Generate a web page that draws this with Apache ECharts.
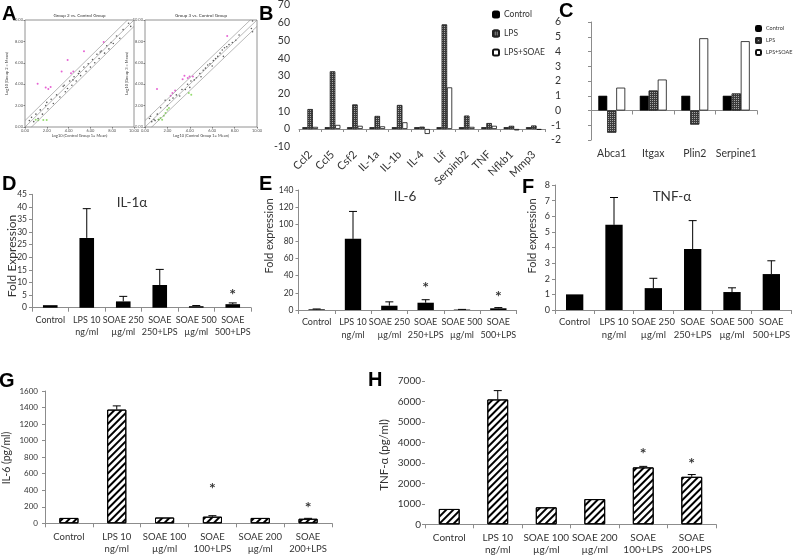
<!DOCTYPE html>
<html><head><meta charset="utf-8">
<script src="https://cdn.jsdelivr.net/npm/echarts@6/dist/echarts.min.js"></script>
<style>html,body{margin:0;padding:0;background:#fff}#c{width:796px;height:559px}</style>
</head><body><div id="c"></div>
<script>
// ---------- Panel A (scatter, log-scale values) ----------
const aDiagonal = [0, 10];
const aFoldOffset = 0.6;
const aLeftBlack = [[0.4,0.6],[0.6,0.9],[0.8,0.5],[1.0,1.2],[1.2,0.8],[1.4,1.6],[1.6,1.2],[1.9,2.0],[2.1,1.7],[2.4,2.6],[2.6,2.2],[2.9,3.0],[3.2,2.8],[3.5,3.8],[3.7,3.3],[3.9,3.6],[4.1,4.3],[4.3,3.9],[4.5,4.7],[4.7,4.3],[4.9,5.0],[5.1,4.8],[5.4,5.6],[5.6,5.2],[5.8,5.9],[6.0,5.6],[6.2,6.3],[6.4,6.0],[6.6,6.8],[6.8,6.4],[7.0,7.1],[7.3,6.9],[7.5,7.6],[7.7,7.3],[7.9,7.9],[8.1,7.8],[8.4,8.5],[8.7,8.3],[9.0,9.1],[9.5,9.7],[9.7,9.4],[3.6,3.9],[5.0,5.2],[4.4,4.4],[6.9,7.0],[2.0,2.3]];
const aLeftPink = [[1.16,4.04],[1.90,3.70],[2.14,3.54],[2.35,3.73],[3.36,5.19],[3.91,6.27],[4.22,5.03],[4.43,5.19],[5.41,7.08],[7.22,7.95]];
const aLeftGreen = [[0.98,0.68],[1.22,0.62],[1.68,0.65],[1.99,0.65]];
const aRightBlack = [[0.4,0.8],[0.5,1.0],[0.6,0.5],[0.8,0.7],[0.9,0.6],[1.1,1.2],[1.2,0.7],[1.4,1.8],[1.8,2.5],[2.0,2.0],[2.2,2.5],[2.5,2.7],[2.8,3.0],[3.1,2.9],[3.3,3.5],[3.6,3.5],[3.8,4.0],[4.0,3.7],[4.1,4.3],[4.4,4.4],[4.6,4.6],[4.9,5.0],[5.0,4.7],[5.2,5.3],[5.4,5.5],[5.6,5.8],[5.8,5.9],[6.0,5.7],[6.1,6.2],[6.3,6.4],[6.5,6.6],[6.7,6.9],[6.9,7.2],[7.0,6.6],[7.1,7.4],[7.3,7.5],[7.5,7.7],[7.8,7.9],[8.1,8.1],[8.4,8.6],[9.5,9.2],[9.6,9.9],[9.6,8.9]];
const aRightPink = [[1.07,3.54],[2.29,2.92],[2.45,3.17],[2.69,3.42],[3.36,4.47],[3.52,4.78],[3.82,4.57],[3.98,4.72],[4.28,4.72],[7.34,8.51]];
const aRightGreen = [[3.91,3.17],[4.13,3.01],[1.38,0.84],[1.68,1.06],[1.83,1.30],[1.99,1.61],[2.14,1.77],[1.53,0.68],[1.22,0.68]];

// ---------- Panel B ----------
const bCategories = ['Ccl2','Ccl5','Csf2','IL-1a','IL-1b','IL-4','Lif','Serpinb2','TNF','Nfkb1','Mmp3'];
const bControl  = [1,1,1,1,1,1,1,1,1,1,1];
const bLPS      = [11.2,32.5,13.8,7.3,13.5,1.2,59,7.5,3.3,1.7,1.9];
const bLPSSOAE  = [1.2,2.3,1.8,1.5,3.8,-2.8,23.5,1.2,1.8,-0.8,-0.5];

// ---------- Panel C ----------
const cCategories = ['Abca1','Itgax','Plin2','Serpine1'];
const cControl  = [1,1,1,1];
const cLPS      = [-1.5,1.35,-0.95,1.15];
const cLPSSOAE  = [1.55,2.1,4.9,4.7];

// ---------- Panels D-F (qPCR) ----------
const defCategories = ['Control','LPS 10\nng/ml','SOAE 250\nµg/ml','SOAE\n250+LPS','SOAE 500\nµg/ml','SOAE\n500+LPS'];
const dValues = [1,27.7,2.5,9,0.6,1.4];
const dErrTop = [null,39.3,4.5,15.2,0.85,1.9];
const dStars  = [null,null,null,null,null,5.2];
const eValues = [0.8,83,5,8.5,0.5,2];
const eErrTop = [1.2,115,9.5,12,0.7,2.8];
const eStars  = [null,null,null,26,null,15];
const fValues = [1.0,5.45,1.4,3.9,1.15,2.3];
const fErrTop = [null,7.2,2.03,5.72,1.42,3.15];

// ---------- Panels G-H (ELISA) ----------
const gCategories = ['Control','LPS 10\nng/ml','SOAE 100\nµg/ml','SOAE\n100+LPS','SOAE 200\nµg/ml','SOAE\n200+LPS'];
const gValues = [65,1375,70,80,65,55];
const gErrTop = [null,1420,null,92,null,60];
const gStars  = [null,null,null,420,null,190];
const hCategories = ['Control','LPS 10\nng/ml','SOAE 100\nµg/ml','SOAE 200\nµg/ml','SOAE\n100+LPS','SOAE\n200+LPS'];
const hValues = [750,6100,830,1230,2780,2320];
const hErrTop = [null,6530,null,null,2830,2430];
const hStars  = [null,null,null,null,3450,2960];

// ---------- build ----------
const FONT = 'Lato, "Open Sans", sans-serif';
const TXT = '#333';
const AX = '#8c8c8c';
const chart = echarts.init(document.getElementById('c'), null, {renderer:'canvas'});

const grids = [
  {left:25, top:20, width:109, height:107, show:true, borderColor:'#777', borderWidth:0.8}, //A1
  {left:145, top:20, width:112, height:107, show:true, borderColor:'#777', borderWidth:0.8}, //A2
  {left:299, top:5, width:246, height:141.7},   //B
  {left:591, top:22, width:166, height:118},    //C
  {left:32, top:194.3, width:219, height:113.4},//D
  {left:298.5, top:190, width:218, height:120}, //E
  {left:555, top:185, width:236, height:125},   //F
  {left:45, top:391, width:287, height:132.3},  //G
  {left:425, top:381, width:291, height:143.3}  //H
].map(g => Object.assign({containLabel:false, outerBoundsMode:'none'}, g));

const xAxes = [], yAxes = [], series = [];

function scatterAxes(gi, xname, yname){
  xAxes.push({gridIndex:gi, type:'value', min:aDiagonal[0], max:aDiagonal[1], interval:2,
    axisLine:{show:false}, axisTick:{show:true, length:1.5, lineStyle:{color:'#777'}}, splitLine:{show:false},
    axisLabel:{fontSize:4, color:'#555', margin:2, formatter:v=>v.toFixed(2)},
    name:xname, nameLocation:'middle', nameGap:7, nameTextStyle:{fontSize:4, color:'#444'}});
  yAxes.push({gridIndex:gi, type:'value', min:aDiagonal[0], max:aDiagonal[1], interval:2,
    axisLine:{show:false}, axisTick:{show:true, length:1.5, lineStyle:{color:'#777'}}, splitLine:{show:false},
    axisLabel:{fontSize:4, color:'#555', margin:2, formatter:v=>v.toFixed(2)},
    name:yname, nameLocation:'middle', nameGap:13, nameTextStyle:{fontSize:4, color:'#444'}});
}
function scatterSeries(ai, black, pink, green){
  const d0 = aDiagonal[0], d1 = aDiagonal[1], o = aFoldOffset;
  const lines = [[[d0,d0],[d1,d1]], [[d0,d0+o],[d1,d1+o]], [[d0,d0-o],[d1,d1-o]]];
  lines.forEach(l => series.push({type:'line', xAxisIndex:ai, yAxisIndex:ai, data:l, symbol:'none', silent:true,
    lineStyle:{color:'#888', width:0.6}}));
  [[black,'#333',1.6],[pink,'#e03cc8',2],[green,'#79d34a',2]].forEach(([d,c,s]) => series.push({type:'scatter',
    xAxisIndex:ai, yAxisIndex:ai, data:d, symbol:'circle', symbolSize:s, silent:true,
    itemStyle:{color:c, borderWidth:0}}));
}
scatterAxes(0, 'Log10 (Control Group 1= Mean)', 'Log10 (Group 2 = Mean)');
scatterAxes(1, 'Log10 (Control Group 1= Mean)', 'Log10 (Group 3 = Mean)');
scatterSeries(0, aLeftBlack, aLeftPink, aLeftGreen);
scatterSeries(1, aRightBlack, aRightPink, aRightGreen);

// B
xAxes.push({gridIndex:2, type:'category', data:bCategories,
  axisLine:{onZero:true, lineStyle:{color:AX}}, axisTick:{show:true, length:3, lineStyle:{color:AX}},
  axisLabel:{interval:0, rotate:45, fontSize:11, color:TXT, margin:6, fontFamily:FONT}});
yAxes.push({gridIndex:2, type:'value', min:-10, max:70, interval:10,
  axisLine:{show:false}, axisTick:{show:false}, splitLine:{show:false},
  axisLabel:{fontSize:10.5, color:TXT, margin:9, fontFamily:FONT}});
// C
xAxes.push({gridIndex:3, type:'category', data:cCategories,
  axisLine:{onZero:true, lineStyle:{color:AX}}, axisTick:{show:true, length:4, lineStyle:{color:AX}},
  axisLabel:{interval:0, fontSize:10.5, color:TXT, margin:8, fontFamily:FONT}});
yAxes.push({gridIndex:3, type:'value', min:-2, max:6, interval:1,
  axisLine:{show:true, lineStyle:{color:AX}}, axisTick:{show:true, length:3, lineStyle:{color:AX}}, splitLine:{show:false},
  axisLabel:{fontSize:10.5, color:TXT, margin:30, fontFamily:FONT}});

const checker = {symbol:'rect', symbolSize:1, dashArrayX:[1,1], dashArrayY:[1,1], color:'rgba(255,255,255,0.55)'};
function groupBars(ai, ctl, lps, soae, gapCat){
  series.push({name:'Control', type:'bar', xAxisIndex:ai, yAxisIndex:ai, data:ctl, barGap:'0%', barCategoryGap:gapCat,
    itemStyle:{color:'#000', borderColor:'#000', borderWidth:0.6}});
  series.push({name:'LPS', type:'bar', xAxisIndex:ai, yAxisIndex:ai, data:lps, barGap:'0%', barCategoryGap:gapCat,
    itemStyle:{color:'#3c3c3c', borderColor:'#222', borderWidth:0.6, decal:checker}});
  series.push({name:'LPS+SOAE', type:'bar', xAxisIndex:ai, yAxisIndex:ai, data:soae, barGap:'0%', barCategoryGap:gapCat,
    itemStyle:{color:'#fff', borderColor:'#111', borderWidth:0.8}});
}
groupBars(2, bControl, bLPS, bLPSSOAE, '30%');
groupBars(3, cControl, cLPS, cLPSSOAE, '35%');

// D-H helpers
function catAxes(gi, cats, max, interval, o){
  xAxes.push({gridIndex:gi, type:'category', data:cats,
    axisLine:{show:true, lineStyle:{color:AX}}, axisTick:{show:true, length:4, lineStyle:{color:AX}},
    axisLabel:{interval:0, fontSize:o.xfs, lineHeight:o.lh, color:TXT, margin:o.xm, fontFamily:FONT}});
  yAxes.push({gridIndex:gi, type:'value', min:0, max:max, interval:interval,
    axisLine:{show:o.yline, lineStyle:{color:AX}}, axisTick:{show:true, length:3, lineStyle:{color:AX}}, splitLine:{show:false},
    axisLabel:{fontSize:o.yfs, color:TXT, margin:o.ym, fontFamily:FONT, formatter:v=>String(v)}});
}
const stripes = {symbol:'rect', symbolSize:1, dashArrayX:[1,0], dashArrayY:[2,3], rotation:-Math.PI/4, color:'#000'};
function singleBars(ai, vals, errTop, stars, width, hatched){
  series.push({type:'bar', xAxisIndex:ai, yAxisIndex:ai, data:vals, barWidth:width,
    itemStyle: hatched ? {color:'#fff', borderColor:'#000', borderWidth:1, decal:stripes} : {color:'#000'}});
  const err = [];
  errTop.forEach((t,i) => { if (t !== null) err.push([i, vals[i], t]); });
  series.push({type:'custom', xAxisIndex:ai, yAxisIndex:ai, data:err, z:5, encode:{x:0, y:[1,2]},
    renderItem:(params, api) => {
      const p0 = api.coord([api.value(0), api.value(1)]);
      const p1 = api.coord([api.value(0), api.value(2)]);
      const w = 4;
      return {type:'group', children:[
        {type:'line', shape:{x1:p0[0], y1:p0[1], x2:p1[0], y2:p1[1]}, style:{stroke:'#000', lineWidth:1}},
        {type:'line', shape:{x1:p1[0]-w, y1:p1[1], x2:p1[0]+w, y2:p1[1]}, style:{stroke:'#000', lineWidth:1}}
      ]};
    }});
  if (stars) {
    const sd = [];
    stars.forEach((s,i) => { if (s !== null) sd.push([i, s]); });
    series.push({type:'scatter', xAxisIndex:ai, yAxisIndex:ai, data:sd, symbolSize:0, z:6,
      label:{show:true, formatter:'*', position:'inside', fontSize:16, fontWeight:'bold', color:'#000', fontFamily:FONT}});
  }
}
catAxes(4, defCategories, 45, 5, {xfs:9, lh:12.5, xm:6, yfs:8.5, ym:5, yline:true});
catAxes(5, defCategories, 140, 20, {xfs:9, lh:12.5, xm:6, yfs:8.5, ym:5, yline:true});
catAxes(6, defCategories, 8, 1, {xfs:9.5, lh:12.5, xm:6, yfs:9, ym:5, yline:true});
catAxes(7, gCategories, 1600, 200, {xfs:9.5, lh:12, xm:8, yfs:8, ym:7, yline:true});
catAxes(8, hCategories, 7000, 1000, {xfs:10, lh:12.5, xm:7, yfs:10, ym:4, yline:false});
singleBars(4, dValues, dErrTop, dStars, '40%', false);
singleBars(5, eValues, eErrTop, eStars, '45%', false);
singleBars(6, fValues, fErrTop, null, '44%', false);
singleBars(7, gValues, gErrTop, gStars, '40%', true);
singleBars(8, hValues, hErrTop, hStars, '43%', true);

// texts
function letter(t, x, y){ return {type:'text', left:x, top:y, style:{text:t, fontSize:20, fontWeight:'bold', fontFamily:'"Liberation Sans", Arial, sans-serif', fill:'#000'}}; }
function ctext(t, x, y, fs, rot){ return {type:'text', x:x, y:y, rotation:rot||0,
  style:{text:t, fontSize:fs, fontFamily:FONT, fill:TXT, textAlign:'center', textVerticalAlign:'middle', align:'center', verticalAlign:'middle'}}; }
const graphics = [
  letter('A', 2, 4), letter('B', 259, 4), letter('C', 559, 1), letter('D', 2, 174), letter('E', 259, 174),
  letter('F', 522, 177), letter('G', -1, 371), letter('H', 368, 370),
  ctext('Group 2 vs. Control Group', 79.5, 16, 4.5), ctext('Group 3 vs. Control Group', 201, 16, 4.5),
  ctext('IL-1α', 132, 203, 13.5), ctext('IL-6', 405, 197, 13.5), ctext('TNF-α', 672, 197, 13.5),
  ctext('Fold Expression', 12, 256, 12, Math.PI/2), ctext('Fold expression', 269, 236, 11, Math.PI/2),
  ctext('Fold expression', 532, 236, 11, Math.PI/2),
  ctext('IL-6 (pg/ml)', 7, 458, 10.5, Math.PI/2), ctext('TNF-α (pg/ml)', 384, 455, 11.5, Math.PI/2)
];

chart.setOption({
  animation:false,
  textStyle:{fontFamily:FONT},
  grid:grids, xAxis:xAxes, yAxis:yAxes, series:series,
  legend:[
    {data:['Control','LPS','LPS+SOAE'], orient:'vertical', left:487, top:5, itemWidth:6, itemHeight:6, itemGap:10,
      textStyle:{fontSize:8.5, color:TXT, fontFamily:FONT}, selectedMode:false},
    {data:['Control','LPS','LPS+SOAE'], orient:'vertical', left:750, top:20, itemWidth:5, itemHeight:5, itemGap:5,
      textStyle:{fontSize:5.5, color:TXT, fontFamily:FONT}, selectedMode:false}
  ],
  graphic:graphics
});
</script></body></html>
